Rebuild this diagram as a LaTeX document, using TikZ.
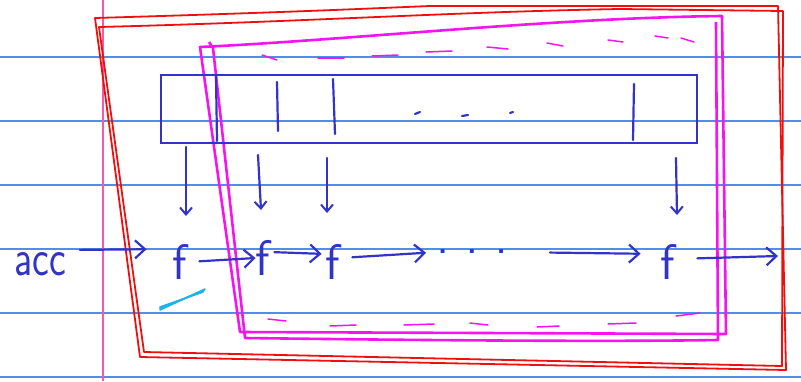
\documentclass[tikz,border=0pt]{standalone}
\usetikzlibrary{arrows.meta}
\definecolor{ink}{RGB}{50,52,200}
\definecolor{redink}{RGB}{240,15,15}
\definecolor{maginka}{RGB}{245,20,240}
\definecolor{ruled}{RGB}{75,145,235}
\definecolor{marginc}{RGB}{245,90,175}
\definecolor{cyanink}{RGB}{30,180,235}
\tikzset{
  paperline/.style={ruled, line width=1.5pt},
  marginline/.style={marginc, line width=1.5pt},
  redbox/.style={redink, line width=1.8pt, line join=round},
  magbox/.style={maginka, line width=2.6pt, line join=round},
  magdash/.style={maginka, line width=1.5pt, line cap=round},
  bluepen/.style={ink, line width=2.2pt, line cap=round, line join=round},
  arrowpen/.style={bluepen, -{Straight Barb[length=10pt,width=18pt,line width=2.2pt]}},
  fn/.style={ink, inner sep=0pt, font=\sffamily\fontsize{50}{50}\selectfont},
  word/.style={ink, inner sep=0pt, font=\sffamily\fontsize{40}{40}\selectfont, yscale=1.3},
  dotsnode/.style={ink, inner sep=0pt, font=\sffamily\bfseries\fontsize{30}{30}\selectfont}
}
\begin{document}
\begin{tikzpicture}[x=1pt,y=-1pt]
\useasboundingbox (0,0) rectangle (801,381);
\fill[white] (0,0) rectangle (801,381);
% ruled paper
\foreach \yy in {57,121,185,249,313,377} \draw[paperline] (0,\yy) -- (801,\yy);
\draw[marginline] (103,0) -- (103,381);

% red outer box (double stroke)
\draw[redbox] (95,18) .. controls (300,12) and (380,8) .. (430,6) -- (778,6) -- (786,370) -- (140,357) -- cycle;
\draw[redbox] (99,27) .. controls (300,22) and (450,12) .. (620,9) -- (783,11) -- (782,366) -- (144,352) -- cycle;

% magenta box (double stroke)
\draw[magbox] (200,47) .. controls (350,40) and (550,18) .. (722,16) -- (726,334) -- (240,332) -- cycle;
\draw[magbox] (209,42) -- (213,48) -- (245,338) .. controls (400,340) and (600,342) .. (718,340) -- (716,22);
% magenta dashes inside
\foreach \xa/\ya/\xb/\yb in {262/55/277/60, 318/58/344/58, 372/56/398/55, 426/52/452/51, 487/47/508/49, 547/43/563/46, 608/40/623/42, 655/36/668/38, 681/38/694/42,
  268/319/286/321, 330/326/356/325, 404/325/434/324, 470/323/488/325, 537/327/559/326, 608/324/636/323, 676/316/700/313}
  \draw[magdash] (\xa,\ya) -- (\xb,\yb);

% array
\node[draw=ink, line width=2pt, minimum width=536pt, minimum height=68pt, inner sep=0pt] (arr) at (429,109) {};
\draw[bluepen] (216,76) -- (217,141);
\draw[bluepen] (277,82) -- (278,131);
\draw[bluepen] (333,79) -- (335,134);
\draw[bluepen] (634,84) -- (633,140);
\draw[bluepen] (415,114) -- (420,112);
\draw[bluepen] (462,116) -- (468,115);
\draw[bluepen] (510,113) -- (513,112);

% bottom row
\node[word] (acc) at (40,264) {acc};
\node[fn] (f1) at (180,262) {f};
\node[fn] (f2) at (263,258) {f};
\node[fn] (f3) at (333,262) {f};
\node[dotsnode] (dots) at (472,252) {.\,\,\,\,.\,\,\,\,.};
\node[fn] (f4) at (668,262) {f};
\coordinate (out) at (778,256);

\draw[arrowpen, shorten <=14pt, shorten >=26pt] ([yshift=14pt]acc.east) -- ([yshift=13pt]f1.west);
\draw[arrowpen, shorten <=12pt, shorten >=0pt] (f1.east) -- (f2.west);
\draw[arrowpen, shorten <=4pt, shorten >=4pt] ([yshift=6pt]f2.east) -- ([yshift=8pt]f3.west);
\draw[arrowpen, shorten <=12pt, shorten >=12pt] ([yshift=4pt]f3.east) -- (dots.west);
\draw[arrowpen, shorten <=44pt, shorten >=20pt] (dots.east) -- ([yshift=8pt]f4.west);
\draw[arrowpen, shorten <=22pt] ([yshift=3pt]f4.east) -- (out);

% down arrows from array cells
\coordinate (t1) at (186,147);
\coordinate (t2) at (258,155);
\coordinate (t3) at (327,158);
\coordinate (t4) at (676,158);
\coordinate (b1) at (186,216);
\coordinate (b2) at (261,210);
\coordinate (b3) at (327,213);
\coordinate (b4) at (677,215);
\foreach \i in {1,2,3,4}
  \draw[bluepen, -{Straight Barb[length=7pt,width=12pt,line width=2pt]}] (t\i) -- (b\i);

% cyan scribble
\foreach \d in {0,2,4,6}
  \draw[cyanink, line width=1.6pt, line cap=round] (160,{310-\d/2}) -- ({205-\d/3},{289+\d/2});
\end{tikzpicture}
\end{document}
